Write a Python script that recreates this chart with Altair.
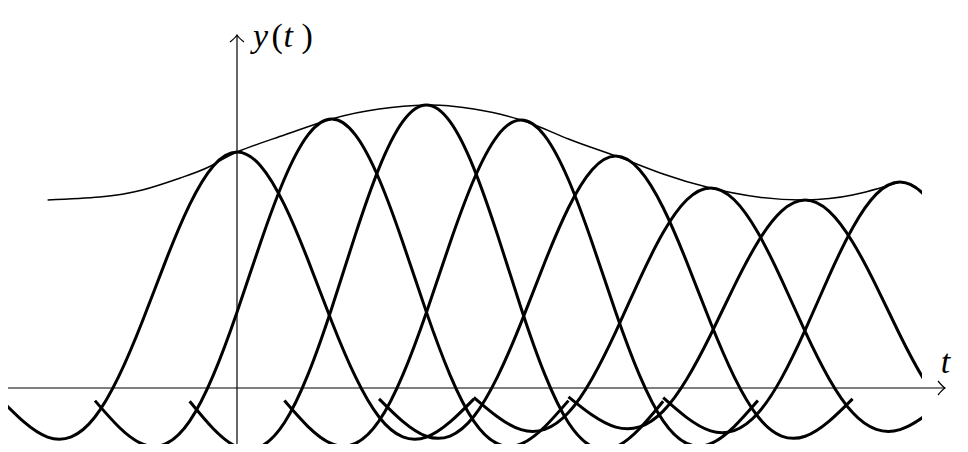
import altair as alt
import pandas as pd

# sample instants (units of the sample spacing T) and the sample amplitudes
SAMPLE_T = [0, 1, 2, 3, 4, 5, 6, 7]
SAMPLE_Y = [236, 269, 283, 268, 232, 200, 188, 206]

# shape of one interpolating pulse (normalised), offsets 0 .. 2.5 T, symmetric
KERNEL_OFFSET = [0, 0.25, 0.5, 0.75, 1.0, 1.25, 1.5, 1.75, 2.0, 2.25, 2.5]
KERNEL_VALUE = [1.000, 0.941, 0.777, 0.542, 0.282, 0.048, -0.123, -0.207, -0.208, -0.144, -0.047]

# reconstructed signal y(t) (thin envelope)
ENV_T = [-2.0, -1.45, -1.0, -0.6, -0.3, 0, 0.5, 1, 1.5, 2, 2.25, 2.5, 3, 3.5, 4, 4.5, 5, 5.5, 6, 6.5, 7]
ENV_Y = [188, 191, 198, 210, 221, 236, 253, 269, 279, 283, 282, 279, 268, 249, 232, 214, 200, 191, 188, 193, 206]

# axis extents
X_DOMAIN = [-2.418, 7.233]
Y_DOMAIN = [-56, 380]
X_AXIS_END = 7.476
Y_AXIS_RANGE = [-62, 353]

# axis labels: "y(t)" pieces (italic letters, upright parentheses) and "t"
ITALIC_TXT = ["y", "t", "t"]
ITALIC_T = [0.169, 0.49, 7.43]
ITALIC_Y = [341, 341, 15]
UPRIGHT_TXT = ["(", ")"]
UPRIGHT_T = [0.365, 0.68]
UPRIGHT_Y = [341, 341]

rows = []
offs = [-o for o in KERNEL_OFFSET[::-1]] + KERNEL_OFFSET[1:]
vals = KERNEL_VALUE[::-1] + KERNEL_VALUE[1:]
for k, (tk, ak) in enumerate(zip(SAMPLE_T, SAMPLE_Y)):
    for o, v in zip(offs, vals):
        rows.append({"pulse": k, "t": tk + o, "y": ak * v})
pulses = pd.DataFrame(rows)
env = pd.DataFrame({"t": ENV_T, "y": ENV_Y})

xs = alt.Scale(domain=X_DOMAIN, nice=False, zero=False)
ys = alt.Scale(domain=Y_DOMAIN, nice=False, zero=False)
X = alt.X("t:Q", scale=xs, axis=None)
Y = alt.Y("y:Q", scale=ys, axis=None)

pulse_layer = alt.Chart(pulses).mark_line(
    interpolate="natural", strokeWidth=3, color="black", clip=True,
    strokeCap="butt"
).encode(x=X, y=Y, detail="pulse:N")

env_layer = alt.Chart(env).mark_line(
    interpolate="natural", strokeWidth=1.5, color="black", clip=True
).encode(x=X, y=Y)

xaxis = pd.DataFrame({"t": [X_DOMAIN[0]], "t2": [X_AXIS_END], "y": [0]})
yaxis = pd.DataFrame({"t": [0], "y": [Y_AXIS_RANGE[0]], "y2": [Y_AXIS_RANGE[1]]})

xaxis_layer = alt.Chart(xaxis).mark_rule(color="black", strokeWidth=1.2).encode(
    x=X, x2="t2:Q", y=Y)
yaxis_layer = alt.Chart(yaxis).mark_rule(color="black", strokeWidth=1.2).encode(
    x=X, y=Y, y2="y2:Q")

arrow_path = "M -1 -1 Q -0.35 -0.2 0 0 Q -0.35 0.2 -1 1"
arrows = pd.DataFrame({"t": [X_AXIS_END, 0], "y": [0, Y_AXIS_RANGE[1]], "ang": [0, 270]})
arrow_layer = alt.Chart(arrows).mark_point(
    shape=arrow_path, size=196, filled=False, color="black", strokeWidth=1.2, opacity=1
).encode(x=X, y=Y, angle=alt.Angle("ang:Q", scale=None))

ital = pd.DataFrame({"t": ITALIC_T, "y": ITALIC_Y, "txt": ITALIC_TXT})
upr = pd.DataFrame({"t": UPRIGHT_T, "y": UPRIGHT_Y, "txt": UPRIGHT_TXT})
ital_layer = alt.Chart(ital).mark_text(
    font="Liberation Serif", fontStyle="italic", fontSize=34, align="left",
    baseline="alphabetic", color="black"
).encode(x=X, y=Y, text="txt:N")
upr_layer = alt.Chart(upr).mark_text(
    font="Liberation Serif", fontSize=34, align="left",
    baseline="alphabetic", color="black"
).encode(x=X, y=Y, text="txt:N")

chart = alt.layer(
    pulse_layer, env_layer, xaxis_layer, yaxis_layer, arrow_layer, ital_layer, upr_layer
).properties(
    width=914, height=436,
    autosize=alt.AutoSizeParams(type="none"),
    padding={"left": 0, "top": 0, "right": 38, "bottom": 0},
    background="white",
).configure_view(stroke=None)

chart.save("out.html", embed_options={"renderer": "svg", "actions": False})
